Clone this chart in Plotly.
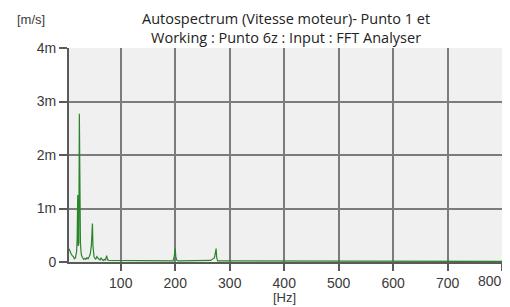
import plotly.graph_objects as go

# Spectrum data (frequency in Hz, amplitude in milli m/s, shown as "m" units)
freq_hz = [5, 7, 9, 11, 13, 15, 17, 19, 20, 21, 22, 23, 24, 25, 26, 27, 28, 30, 32, 34,
           36, 38, 40, 42, 44, 46, 47, 48, 49, 50, 51, 52, 54, 56, 58, 60, 62, 64, 66, 68,
           70, 72, 74, 76, 78, 80, 85, 90, 95, 100, 110, 120, 130, 140, 150, 160, 170, 180,
           190, 196, 198, 199, 200, 201, 203, 206, 220, 240, 255, 265, 272, 274, 275, 276,
           278, 285, 300, 320, 340, 360, 400, 450, 500, 550, 600, 650, 700, 750, 800]
amp_m = [0.25, 0.18, 0.15, 0.12, 0.1, 0.06, 0.08, 0.2, 0.45, 1.25, 0.3, 0.35, 2.77, 0.5, 0.35,
         0.2, 0.12, 0.08, 0.05, 0.07, 0.05, 0.08, 0.06, 0.1, 0.15, 0.3, 0.45, 0.72, 0.3, 0.15,
         0.1, 0.08, 0.05, 0.1, 0.06, 0.05, 0.04, 0.08, 0.04, 0.03, 0.05, 0.03, 0.12, 0.04, 0.03,
         0.03, 0.02, 0.03, 0.02, 0.03, 0.02, 0.03, 0.02, 0.02, 0.02, 0.02, 0.02, 0.02, 0.02,
         0.02, 0.1, 0.22, 0.25, 0.1, 0.03, 0.02, 0.02, 0.02, 0.02, 0.03, 0.08, 0.22, 0.25, 0.08,
         0.02, 0.02, 0.02, 0.01, 0.02, 0.01, 0.01, 0.01, 0.01, 0.01, 0.01, 0.01, 0.01, 0.01, 0.01]

x_ticks = [100, 200, 300, 400, 500, 600, 700, 800]
x_tick_labels = ["100", "200", "300", "400", "500", "600", "700", "800"]
y_ticks = [0, 1, 2, 3, 4]
y_tick_labels = ["0", "1m", "2m", "3m", "4m"]
grid_y = [1, 2, 3]

title_lines = ["Autospectrum (Vitesse moteur)- Punto 1 et",
               "Working : Punto 6z : Input : FFT Analyser"]

# the last label is drawn right-aligned to its tick (as in the original) so it stays in view
x_tick_text = x_tick_labels[:-1] + [""]

fig = go.Figure()
fig.add_trace(go.Scatter(x=freq_hz, y=amp_m, mode="lines",
                         line=dict(color="#2a852a", width=1.2), showlegend=False))
# invisible trace on overlay axis carrying the horizontal grid lines
fig.add_trace(go.Scatter(x=[freq_hz[0]], y=[0], yaxis="y2", mode="markers",
                         marker=dict(opacity=0), showlegend=False, hoverinfo="skip"))

tick_font = dict(family="Liberation Sans", size=14, color="#3a3a3a")
grid_col = "#7c7c7c"
axis_col = "#5a5a5a"

# the page body adds an 8px offset, so the figure is 8px smaller than the window
fig.update_layout(
    template="none",
    width=502, height=299,
    margin=dict(l=61, r=7, t=40, b=45),
    paper_bgcolor="white", plot_bgcolor="#f0f0f0",
    font=tick_font,
    xaxis=dict(range=[5, 801.5], tickvals=x_ticks, ticktext=x_tick_text,
               showgrid=True, gridcolor=grid_col, gridwidth=2,
               showline=True, linecolor=axis_col, linewidth=2,
               ticks="outside", ticklen=7, tickcolor=axis_col, tickwidth=2,
               zeroline=False, tickfont=tick_font, automargin=False),
    yaxis=dict(range=[0, 4], tickvals=y_ticks, ticktext=y_tick_labels,
               showgrid=False, showline=True, linecolor=axis_col, linewidth=2,
               ticks="outside", ticklen=8, tickcolor=axis_col, tickwidth=2,
               zeroline=False, tickfont=tick_font, automargin=False),
    yaxis2=dict(range=[0, 4], overlaying="y", tickvals=grid_y, showticklabels=False,
                showgrid=True, gridcolor=grid_col, gridwidth=2, zeroline=False,
                showline=False, ticks="", automargin=False),
    annotations=[
        dict(text="<br>".join(title_lines), xref="paper", yref="paper",
             x=0.5, y=1, yshift=20, xanchor="center", yanchor="middle", showarrow=False,
             font=dict(family="Open Sans", size=14.5, color="#222222")),
        dict(text="[m/s]", xref="paper", yref="paper", x=0, xshift=-54, y=1, yshift=29,
             xanchor="left", yanchor="middle", showarrow=False,
             font=dict(family="Liberation Sans", size=13, color="#3a3a3a")),
        dict(text="[Hz]", xref="x", yref="paper", x=400, y=0, yshift=-35,
             xanchor="center", yanchor="middle", showarrow=False,
             font=dict(family="Liberation Sans", size=13, color="#3a3a3a")),
        dict(text=x_tick_labels[-1], xref="x", yref="paper", x=x_ticks[-1], y=0,
             xshift=2, yshift=-19, xanchor="right", yanchor="middle", showarrow=False,
             font=tick_font),
    ],
)

fig.write_html("out.html")
